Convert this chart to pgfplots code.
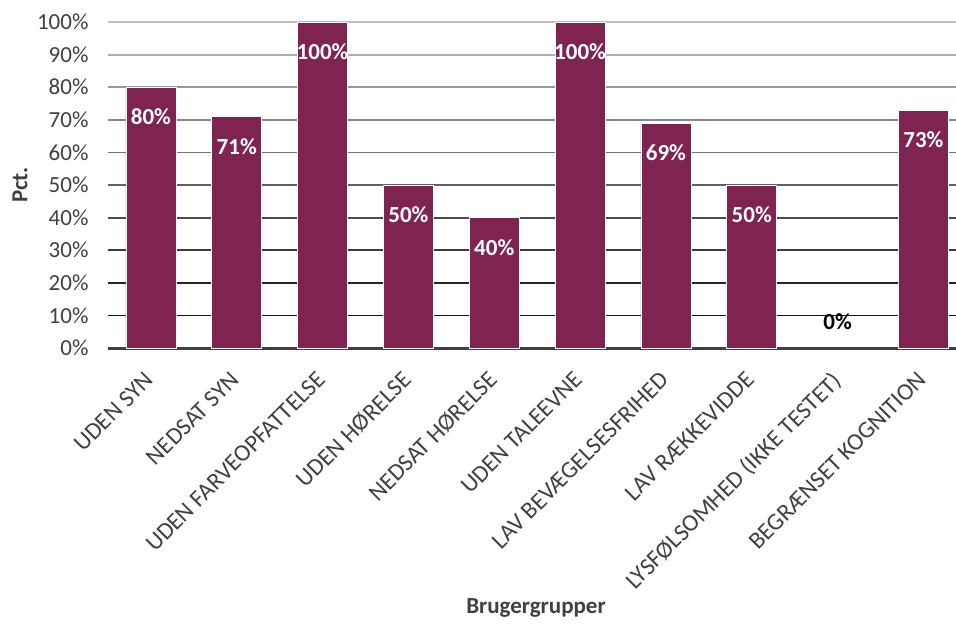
\documentclass[border=0pt]{standalone}
\usepackage{fontspec}
\setmainfont{Carlito}
\usepackage{pgfplots}
\pgfplotsset{compat=1.18}
\definecolor{barc}{HTML}{7F2350}
\definecolor{txt}{HTML}{404040}
\begin{document}
\begin{tikzpicture}[x=1pt,y=1pt]
\useasboundingbox (-108,-276) rectangle (848,348);
\begin{axis}[
  at={(0,0)}, anchor=south west,
  scale only axis, width=848pt, height=326pt,
  xmin=-0.5, xmax=9.38, ymin=0, ymax=100,
  axis x line*=bottom, axis y line*=left,
  y axis line style={draw=none},
  x axis line style={line width=3pt, color=txt, -},
  ytick={0,10,...,100},
  yticklabel={\pgfmathprintnumber{\tick}\%},
  xtick={0,...,9},
  xticklabels={UDEN SYN, NEDSAT SYN, UDEN FARVEOPFATTELSE, UDEN HØRELSE, NEDSAT HØRELSE, UDEN TALEEVNE, LAV BEVÆGELSESFRIHED, LAV RÆKKEVIDDE, LYSFØLSOMHED (IKKE TESTET), BEGRÆNSET KOGNITION},
  x tick label style={xshift=-7pt, yshift=-22pt, rotate=45, anchor=north east, inner sep=0pt, font=\fontsize{24}{26}\selectfont, color=txt},
  y tick label style={font=\fontsize{23}{25}\selectfont, color=txt, anchor=east, xshift=-16pt},
  major tick length=0pt,
  /pgf/number format/assume math mode=true,
  clip=false,
]
\draw[line width=1.8pt, color=black!92] (axis cs:-0.5,10) -- (axis cs:9.38,10);
\draw[line width=1.8pt, color=black!85] (axis cs:-0.5,20) -- (axis cs:9.38,20);
\draw[line width=1.8pt, color=black!77] (axis cs:-0.5,30) -- (axis cs:9.38,30);
\draw[line width=1.8pt, color=black!70] (axis cs:-0.5,40) -- (axis cs:9.38,40);
\draw[line width=1.8pt, color=black!62] (axis cs:-0.5,50) -- (axis cs:9.38,50);
\draw[line width=1.8pt, color=black!55] (axis cs:-0.5,60) -- (axis cs:9.38,60);
\draw[line width=1.8pt, color=black!47] (axis cs:-0.5,70) -- (axis cs:9.38,70);
\draw[line width=1.8pt, color=black!40] (axis cs:-0.5,80) -- (axis cs:9.38,80);
\draw[line width=1.8pt, color=black!32] (axis cs:-0.5,90) -- (axis cs:9.38,90);
\draw[line width=1.8pt, color=black!25] (axis cs:-0.5,100) -- (axis cs:9.38,100);
\addplot[ybar, bar width=50pt, bar shift=0pt, fill=barc, draw=white, line width=0.6pt,
  nodes near coords={\pgfmathprintnumber{\pgfplotspointmeta}\%},
  nodes near coords style={anchor=north, yshift=-18pt, font=\bfseries\fontsize{23}{25}\selectfont, text=white, /pgf/number format/assume math mode=true}]
  coordinates {(0,80) (1,71) (2,100) (3,50) (4,40) (5,100) (6,69) (7,50) (9,73)};
\addplot[ybar, bar width=50pt, bar shift=0pt, fill=barc, draw=none,
  nodes near coords={\pgfmathprintnumber{\pgfplotspointmeta}\%},
  nodes near coords style={anchor=south, yshift=15pt, font=\bfseries\fontsize{23}{25}\selectfont, text=black, /pgf/number format/assume math mode=true}]
  coordinates {(8,0)};
\end{axis}
\node[rotate=90, font=\bfseries\fontsize{23}{25}\selectfont, color=txt] at (-88,163) {Pct.};
\node[font=\bfseries\fontsize{23}{25}\selectfont, color=txt] at (428,-260) {Brugergrupper};
\end{tikzpicture}
\end{document}
